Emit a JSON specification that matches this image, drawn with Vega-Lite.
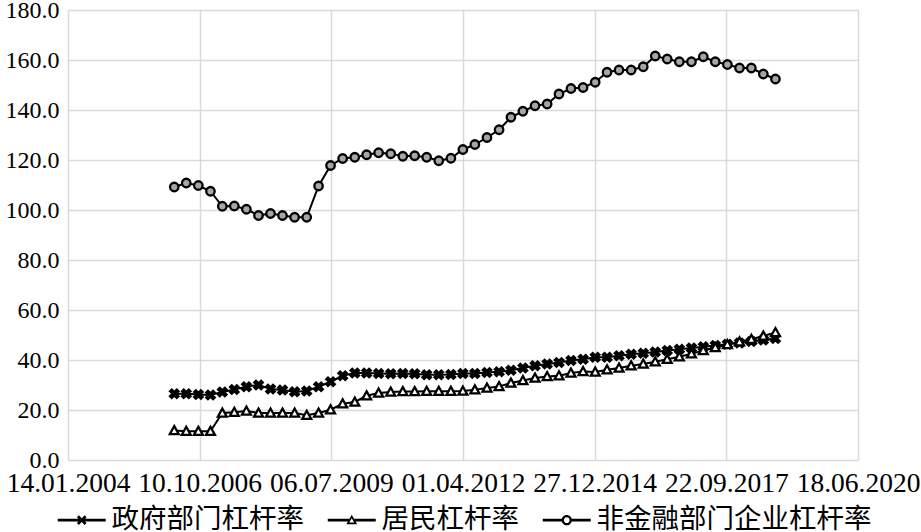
{
  "$schema": "https://vega.github.io/schema/vega-lite/v6.json",
  "width": 790,
  "height": 450,
  "autosize": "none",
  "padding": {"left": 68, "top": 10, "right": 63, "bottom": 72},
  "background": "white",
  "config": {"view": {"stroke": null}},
  "data": {"values": [
    {"date":"2006-03-31","series":"政府部门杠杆率","value":26.5},
    {"date":"2006-06-30","series":"政府部门杠杆率","value":26.5},
    {"date":"2006-09-30","series":"政府部门杠杆率","value":26.2},
    {"date":"2006-12-31","series":"政府部门杠杆率","value":26.0},
    {"date":"2007-03-31","series":"政府部门杠杆率","value":27.2},
    {"date":"2007-06-30","series":"政府部门杠杆率","value":28.2},
    {"date":"2007-09-30","series":"政府部门杠杆率","value":29.3},
    {"date":"2007-12-31","series":"政府部门杠杆率","value":30.0},
    {"date":"2008-03-31","series":"政府部门杠杆率","value":28.4},
    {"date":"2008-06-30","series":"政府部门杠杆率","value":28.0},
    {"date":"2008-09-30","series":"政府部门杠杆率","value":27.3},
    {"date":"2008-12-31","series":"政府部门杠杆率","value":27.6},
    {"date":"2009-03-31","series":"政府部门杠杆率","value":29.3},
    {"date":"2009-06-30","series":"政府部门杠杆率","value":31.3},
    {"date":"2009-09-30","series":"政府部门杠杆率","value":33.7},
    {"date":"2009-12-31","series":"政府部门杠杆率","value":34.8},
    {"date":"2010-03-31","series":"政府部门杠杆率","value":34.8},
    {"date":"2010-06-30","series":"政府部门杠杆率","value":34.6},
    {"date":"2010-09-30","series":"政府部门杠杆率","value":34.5},
    {"date":"2010-12-31","series":"政府部门杠杆率","value":34.6},
    {"date":"2011-03-31","series":"政府部门杠杆率","value":34.5},
    {"date":"2011-06-30","series":"政府部门杠杆率","value":34.1},
    {"date":"2011-09-30","series":"政府部门杠杆率","value":34.1},
    {"date":"2011-12-31","series":"政府部门杠杆率","value":34.2},
    {"date":"2012-03-31","series":"政府部门杠杆率","value":34.6},
    {"date":"2012-06-30","series":"政府部门杠杆率","value":34.6},
    {"date":"2012-09-30","series":"政府部门杠杆率","value":35.0},
    {"date":"2012-12-31","series":"政府部门杠杆率","value":35.3},
    {"date":"2013-03-31","series":"政府部门杠杆率","value":35.9},
    {"date":"2013-06-30","series":"政府部门杠杆率","value":36.8},
    {"date":"2013-09-30","series":"政府部门杠杆率","value":37.7},
    {"date":"2013-12-31","series":"政府部门杠杆率","value":38.4},
    {"date":"2014-03-31","series":"政府部门杠杆率","value":39.0},
    {"date":"2014-06-30","series":"政府部门杠杆率","value":39.8},
    {"date":"2014-09-30","series":"政府部门杠杆率","value":40.3},
    {"date":"2014-12-31","series":"政府部门杠杆率","value":41.1},
    {"date":"2015-03-31","series":"政府部门杠杆率","value":41.1},
    {"date":"2015-06-30","series":"政府部门杠杆率","value":41.7},
    {"date":"2015-09-30","series":"政府部门杠杆率","value":42.3},
    {"date":"2015-12-31","series":"政府部门杠杆率","value":42.7},
    {"date":"2016-03-31","series":"政府部门杠杆率","value":43.2},
    {"date":"2016-06-30","series":"政府部门杠杆率","value":43.8},
    {"date":"2016-09-30","series":"政府部门杠杆率","value":44.3},
    {"date":"2016-12-31","series":"政府部门杠杆率","value":44.8},
    {"date":"2017-03-31","series":"政府部门杠杆率","value":45.3},
    {"date":"2017-06-30","series":"政府部门杠杆率","value":45.8},
    {"date":"2017-09-30","series":"政府部门杠杆率","value":46.3},
    {"date":"2017-12-31","series":"政府部门杠杆率","value":46.8},
    {"date":"2018-03-31","series":"政府部门杠杆率","value":47.4},
    {"date":"2018-06-30","series":"政府部门杠杆率","value":48.0},
    {"date":"2018-09-30","series":"政府部门杠杆率","value":48.6},
    {"date":"2006-03-31","series":"居民杠杆率","value":11.8},
    {"date":"2006-06-30","series":"居民杠杆率","value":11.5},
    {"date":"2006-09-30","series":"居民杠杆率","value":11.5},
    {"date":"2006-12-31","series":"居民杠杆率","value":11.5},
    {"date":"2007-03-31","series":"居民杠杆率","value":18.8},
    {"date":"2007-06-30","series":"居民杠杆率","value":19.1},
    {"date":"2007-09-30","series":"居民杠杆率","value":19.6},
    {"date":"2007-12-31","series":"居民杠杆率","value":18.8},
    {"date":"2008-03-31","series":"居民杠杆率","value":18.8},
    {"date":"2008-06-30","series":"居民杠杆率","value":18.8},
    {"date":"2008-09-30","series":"居民杠杆率","value":18.8},
    {"date":"2008-12-31","series":"居民杠杆率","value":17.9},
    {"date":"2009-03-31","series":"居民杠杆率","value":18.8},
    {"date":"2009-06-30","series":"居民杠杆率","value":20.1},
    {"date":"2009-09-30","series":"居民杠杆率","value":22.5},
    {"date":"2009-12-31","series":"居民杠杆率","value":23.2},
    {"date":"2010-03-31","series":"居民杠杆率","value":25.7},
    {"date":"2010-06-30","series":"居民杠杆率","value":26.8},
    {"date":"2010-09-30","series":"居民杠杆率","value":27.2},
    {"date":"2010-12-31","series":"居民杠杆率","value":27.4},
    {"date":"2011-03-31","series":"居民杠杆率","value":27.4},
    {"date":"2011-06-30","series":"居民杠杆率","value":27.5},
    {"date":"2011-09-30","series":"居民杠杆率","value":27.5},
    {"date":"2011-12-31","series":"居民杠杆率","value":27.5},
    {"date":"2012-03-31","series":"居民杠杆率","value":27.6},
    {"date":"2012-06-30","series":"居民杠杆率","value":28.1},
    {"date":"2012-09-30","series":"居民杠杆率","value":28.8},
    {"date":"2012-12-31","series":"居民杠杆率","value":29.4},
    {"date":"2013-03-31","series":"居民杠杆率","value":30.8},
    {"date":"2013-06-30","series":"居民杠杆率","value":31.8},
    {"date":"2013-09-30","series":"居民杠杆率","value":32.8},
    {"date":"2013-12-31","series":"居民杠杆率","value":33.4},
    {"date":"2014-03-31","series":"居民杠杆率","value":33.7},
    {"date":"2014-06-30","series":"居民杠杆率","value":34.8},
    {"date":"2014-09-30","series":"居民杠杆率","value":35.4},
    {"date":"2014-12-31","series":"居民杠杆率","value":35.2},
    {"date":"2015-03-31","series":"居民杠杆率","value":36.1},
    {"date":"2015-06-30","series":"居民杠杆率","value":36.8},
    {"date":"2015-09-30","series":"居民杠杆率","value":37.7},
    {"date":"2015-12-31","series":"居民杠杆率","value":38.4},
    {"date":"2016-03-31","series":"居民杠杆率","value":39.3},
    {"date":"2016-06-30","series":"居民杠杆率","value":40.3},
    {"date":"2016-09-30","series":"居民杠杆率","value":41.3},
    {"date":"2016-12-31","series":"居民杠杆率","value":42.5},
    {"date":"2017-03-31","series":"居民杠杆率","value":43.8},
    {"date":"2017-06-30","series":"居民杠杆率","value":45.0},
    {"date":"2017-09-30","series":"居民杠杆率","value":46.2},
    {"date":"2017-12-31","series":"居民杠杆率","value":47.3},
    {"date":"2018-03-31","series":"居民杠杆率","value":48.3},
    {"date":"2018-06-30","series":"居民杠杆率","value":49.6},
    {"date":"2018-09-30","series":"居民杠杆率","value":51.0},
    {"date":"2006-03-31","series":"非金融部门企业杠杆率","value":109.2},
    {"date":"2006-06-30","series":"非金融部门企业杠杆率","value":110.8},
    {"date":"2006-09-30","series":"非金融部门企业杠杆率","value":109.8},
    {"date":"2006-12-31","series":"非金融部门企业杠杆率","value":107.5},
    {"date":"2007-03-31","series":"非金融部门企业杠杆率","value":101.5},
    {"date":"2007-06-30","series":"非金融部门企业杠杆率","value":101.6},
    {"date":"2007-09-30","series":"非金融部门企业杠杆率","value":100.3},
    {"date":"2007-12-31","series":"非金融部门企业杠杆率","value":97.8},
    {"date":"2008-03-31","series":"非金融部门企业杠杆率","value":98.6},
    {"date":"2008-06-30","series":"非金融部门企业杠杆率","value":97.8},
    {"date":"2008-09-30","series":"非金融部门企业杠杆率","value":97.1},
    {"date":"2008-12-31","series":"非金融部门企业杠杆率","value":97.1},
    {"date":"2009-03-31","series":"非金融部门企业杠杆率","value":109.6},
    {"date":"2009-06-30","series":"非金融部门企业杠杆率","value":117.8},
    {"date":"2009-09-30","series":"非金融部门企业杠杆率","value":120.6},
    {"date":"2009-12-31","series":"非金融部门企业杠杆率","value":121.1},
    {"date":"2010-03-31","series":"非金融部门企业杠杆率","value":122.1},
    {"date":"2010-06-30","series":"非金融部门企业杠杆率","value":122.9},
    {"date":"2010-09-30","series":"非金融部门企业杠杆率","value":122.5},
    {"date":"2010-12-31","series":"非金融部门企业杠杆率","value":121.5},
    {"date":"2011-03-31","series":"非金融部门企业杠杆率","value":121.7},
    {"date":"2011-06-30","series":"非金融部门企业杠杆率","value":121.1},
    {"date":"2011-09-30","series":"非金融部门企业杠杆率","value":119.7},
    {"date":"2011-12-31","series":"非金融部门企业杠杆率","value":120.7},
    {"date":"2012-03-31","series":"非金融部门企业杠杆率","value":124.2},
    {"date":"2012-06-30","series":"非金融部门企业杠杆率","value":126.2},
    {"date":"2012-09-30","series":"非金融部门企业杠杆率","value":129.0},
    {"date":"2012-12-31","series":"非金融部门企业杠杆率","value":132.1},
    {"date":"2013-03-31","series":"非金融部门企业杠杆率","value":137.1},
    {"date":"2013-06-30","series":"非金融部门企业杠杆率","value":139.5},
    {"date":"2013-09-30","series":"非金融部门企业杠杆率","value":141.7},
    {"date":"2013-12-31","series":"非金融部门企业杠杆率","value":142.4},
    {"date":"2014-03-31","series":"非金融部门企业杠杆率","value":146.4},
    {"date":"2014-06-30","series":"非金融部门企业杠杆率","value":148.6},
    {"date":"2014-09-30","series":"非金融部门企业杠杆率","value":149.0},
    {"date":"2014-12-31","series":"非金融部门企业杠杆率","value":151.1},
    {"date":"2015-03-31","series":"非金融部门企业杠杆率","value":155.1},
    {"date":"2015-06-30","series":"非金融部门企业杠杆率","value":156.0},
    {"date":"2015-09-30","series":"非金融部门企业杠杆率","value":156.0},
    {"date":"2015-12-31","series":"非金融部门企业杠杆率","value":157.3},
    {"date":"2016-03-31","series":"非金融部门企业杠杆率","value":161.6},
    {"date":"2016-06-30","series":"非金融部门企业杠杆率","value":160.4},
    {"date":"2016-09-30","series":"非金融部门企业杠杆率","value":159.3},
    {"date":"2016-12-31","series":"非金融部门企业杠杆率","value":159.3},
    {"date":"2017-03-31","series":"非金融部门企业杠杆率","value":161.3},
    {"date":"2017-06-30","series":"非金融部门企业杠杆率","value":159.3},
    {"date":"2017-09-30","series":"非金融部门企业杠杆率","value":158.2},
    {"date":"2017-12-31","series":"非金融部门企业杠杆率","value":156.8},
    {"date":"2018-03-31","series":"非金融部门企业杠杆率","value":156.8},
    {"date":"2018-06-30","series":"非金融部门企业杠杆率","value":154.4},
    {"date":"2018-09-30","series":"非金融部门企业杠杆率","value":152.4}
  ]},
  "encoding": {
    "x": {
      "field": "date", "type": "temporal",
      "scale": {"type": "utc", "domain": [{"year": 2004, "month": 1, "date": 14, "utc": true}, {"year": 2020, "month": 6, "date": 18, "utc": true}]},
      "axis": {
        "title": null,
        "values": [
          {"year": 2004, "month": 1, "date": 14, "utc": true},
          {"year": 2006, "month": 10, "date": 10, "utc": true},
          {"year": 2009, "month": 7, "date": 6, "utc": true},
          {"year": 2012, "month": 4, "date": 1, "utc": true},
          {"year": 2014, "month": 12, "date": 27, "utc": true},
          {"year": 2017, "month": 9, "date": 22, "utc": true},
          {"year": 2020, "month": 6, "date": 18, "utc": true}
        ],
        "labelExpr": "utcFormat(datum.value, '%d.%m.%Y')",
        "labelFont": "Liberation Serif", "labelFontSize": 27.5, "labelColor": "black",
        "labelPadding": 9, "labelOverlap": false, "labelFlush": false,
        "ticks": false, "domain": false,
        "grid": true, "gridColor": "#d9d9d9", "gridWidth": 1.5
      }
    },
    "y": {
      "field": "value", "type": "quantitative",
      "scale": {"domain": [0, 180], "nice": false},
      "axis": {
        "title": null,
        "values": [0, 20, 40, 60, 80, 100, 120, 140, 160, 180],
        "format": ".1f",
        "labelFont": "Liberation Serif", "labelFontSize": 24, "labelColor": "black",
        "labelPadding": 9,
        "ticks": false, "domain": false,
        "grid": true, "gridColor": "#d9d9d9", "gridWidth": 1.5
      }
    }
  },
  "layer": [
    {
      "mark": {"type": "line", "color": "black", "strokeWidth": 2},
      "encoding": {"detail": {"field": "series", "type": "nominal"}}
    },
    {
      "mark": {"type": "point", "filled": true, "stroke": "black", "strokeWidth": 2.3, "size": 72, "opacity": 1},
      "encoding": {
        "shape": {
          "field": "series", "type": "nominal",
          "scale": {
            "domain": ["政府部门杠杆率", "居民杠杆率", "非金融部门企业杠杆率"],
            "range": [
              "M-1,-0.6L-0.6,-1L0,-0.4L0.6,-1L1,-0.6L0.4,0L1,0.6L0.6,1L0,0.4L-0.6,1L-1,0.6L-0.4,0Z",
              "M0,-1.05L1.05,0.85L-1.05,0.85Z",
              "circle"
            ]
          },
          "legend": null
        },
        "fill": {
          "field": "series", "type": "nominal",
          "scale": {
            "domain": ["政府部门杠杆率", "居民杠杆率", "非金融部门企业杠杆率"],
            "range": ["black", "white", "#a6a6a6"]
          },
          "legend": null
        }
      }
    },
    {
      "transform": [{"filter": "datum.value < 0"}],
      "mark": {"type": "point", "filled": true, "color": "black", "size": 144, "opacity": 1},
      "encoding": {
        "shape": {
          "field": "series", "type": "nominal",
          "scale": {
            "domain": ["政府部门杠杆率", "居民杠杆率", "非金融部门企业杠杆率"],
            "range": [
              "M-4,-0.22H4V0.22H-4ZM-0.8,-0.48L-0.48,-0.8L0,-0.32L0.48,-0.8L0.8,-0.48L0.32,0L0.8,0.48L0.48,0.8L0,0.32L-0.48,0.8L-0.8,0.48L-0.32,0Z",
              "M-4,-0.22H-0.45V0.22H-4ZM0.45,-0.22H4V0.22H0.45ZM0,-0.9L0.9,0.7L-0.9,0.7ZM0,-0.31L-0.4,0.41L0.4,0.41Z",
              "M-4,-0.22H-0.7V0.22H-4ZM0.7,-0.22H4V0.22H0.7ZM-0.85,0A0.85,0.85 0 1,1 0.85,0A0.85,0.85 0 1,1 -0.85,0ZM-0.48,0A0.48,0.48 0 1,0 0.48,0A0.48,0.48 0 1,0 -0.48,0Z"
            ]
          },
          "legend": {
            "title": null, "orient": "none", "direction": "horizontal",
            "legendX": 0, "legendY": 496, "padding": 0,
            "symbolSize": 144,
            "labelFont": "Noto Sans CJK SC", "labelFontSize": 27.5, "labelColor": "black",
            "labelLimit": 500, "labelOffset": 16, "columnPadding": 20
          }
        }
      }
    }
  ],
  "resolve": {"scale": {"shape": "independent"}}
}
